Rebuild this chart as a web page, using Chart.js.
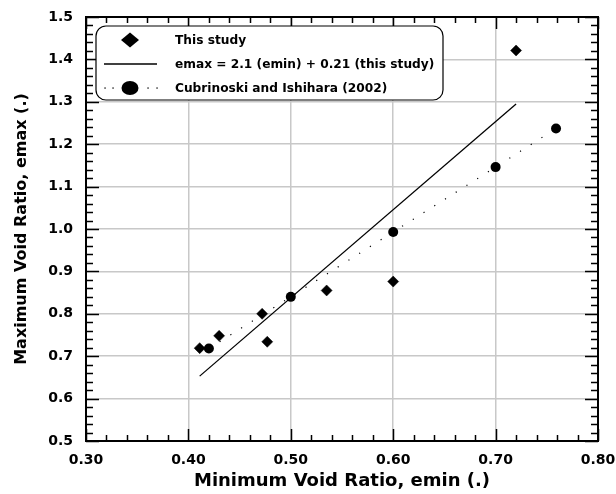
<!DOCTYPE html>
<html>
<head>
<meta charset="utf-8">
<script src="https://cdn.jsdelivr.net/npm/chart.js@4.4.1/dist/chart.umd.min.js"></script>
<style>
  html, body { margin: 0; padding: 0; background: #fff; }
  canvas { display: block; }
</style>
</head>
<body>
<canvas id="c" width="616" height="494"></canvas>
<script>
// ---- Data ----
const studyX = [0.411, 0.430, 0.472, 0.477, 0.535, 0.600, 0.720];
const studyY = [0.719, 0.748, 0.800, 0.734, 0.855, 0.876, 1.421];

const fitX = [0.411, 0.720];
const fitY = [0.653, 1.295];

const cubX = [0.420, 0.500, 0.600, 0.700, 0.759];
const cubY = [0.718, 0.840, 0.993, 1.146, 1.237];

const xTicks = ['0.30', '0.40', '0.50', '0.60', '0.70', '0.80'];
const yTicks = ['0.5', '0.6', '0.7', '0.8', '0.9', '1.0', '1.1', '1.2', '1.3', '1.4', '1.5'];

const legendLabels = [
  'This study',
  'emax = 2.1 (emin) + 0.21 (this study)',
  'Cubrinoski and Ishihara (2002)'
];
const xTitle = 'Minimum Void Ratio, emin (.)';
const yTitle = 'Maximum Void Ratio, emax (.)';

const FONT = 'DejaVu Sans';
const toPts = (xs, ys) => xs.map((x, i) => ({ x: x, y: ys[i] }));

// inward minor/major ticks on all four sides + full frame
const frameTicks = {
  id: 'frameTicks',
  afterDraw(chart) {
    const { ctx, chartArea: a, scales } = chart;
    const xs = scales.x, ys = scales.y;
    ctx.save();
    ctx.strokeStyle = '#000';
    ctx.lineWidth = 1.5;
    ctx.beginPath();
    for (let i = 0; i <= 25; i++) {
      const v = 0.3 + i * 0.02;
      const px = Math.round(xs.getPixelForValue(v)) + 0.5;
      const len = (i % 5 === 0) ? 12 : 6;
      ctx.moveTo(px, a.bottom); ctx.lineTo(px, a.bottom - len);
      ctx.moveTo(px, a.top); ctx.lineTo(px, a.top + len);
    }
    for (let i = 0; i <= 50; i++) {
      const v = 0.5 + i * 0.02;
      const py = Math.round(ys.getPixelForValue(v)) + 0.5;
      const len = (i % 5 === 0) ? 13 : 7;
      ctx.moveTo(a.left, py); ctx.lineTo(a.left + len, py);
      ctx.moveTo(a.right, py); ctx.lineTo(a.right - len, py);
    }
    ctx.stroke();
    ctx.lineWidth = 2;
    ctx.strokeRect(a.left, a.top, a.right - a.left, a.bottom - a.top);
    ctx.restore();
  }
};

// boxed legend inside the plot
const boxLegend = {
  id: 'boxLegend',
  afterDraw(chart) {
    const { ctx } = chart;
    const bx = 96, by = 26, bw = 347, bh = 74, r = 10;
    ctx.save();
    ctx.beginPath();
    ctx.moveTo(bx + r, by);
    ctx.arcTo(bx + bw, by, bx + bw, by + bh, r);
    ctx.arcTo(bx + bw, by + bh, bx, by + bh, r);
    ctx.arcTo(bx, by + bh, bx, by, r);
    ctx.arcTo(bx, by, bx + bw, by, r);
    ctx.closePath();
    ctx.fillStyle = '#fff';
    ctx.fill();
    ctx.strokeStyle = '#000';
    ctx.lineWidth = 1.2;
    ctx.stroke();

    const sx = 130, rows = [40, 64, 88];
    ctx.fillStyle = '#000';
    ctx.beginPath();
    ctx.moveTo(sx - 9, rows[0]); ctx.lineTo(sx, rows[0] - 7.5);
    ctx.lineTo(sx + 9, rows[0]); ctx.lineTo(sx, rows[0] + 7.5);
    ctx.closePath(); ctx.fill();
    ctx.lineWidth = 1.3;
    ctx.beginPath(); ctx.moveTo(104, rows[1]); ctx.lineTo(157, rows[1]); ctx.stroke();
    [105, 113, 148, 157].forEach(d => { ctx.fillRect(d - 0.6, rows[2] - 0.6, 1.3, 1.3); });
    ctx.beginPath(); ctx.ellipse(sx, rows[2], 8.5, 7, 0, 0, Math.PI * 2); ctx.fill();

    ctx.font = 'bold 12.2px "' + FONT + '"';
    ctx.textBaseline = 'middle';
    ctx.textAlign = 'left';
    legendLabels.forEach((t, i) => ctx.fillText(t, 175, rows[i] + 1));
    ctx.restore();
  }
};

const gridColor = (ctx) => {
  const v = ctx.tick ? ctx.tick.value : null;
  if (v === null) return 'rgba(0,0,0,0)';
  const s = ctx.scale;
  if (Math.abs(v - s.min) < 1e-9 || Math.abs(v - s.max) < 1e-9) return 'rgba(0,0,0,0)';
  return '#c8c8c8';
};

new Chart(document.getElementById('c'), {
  type: 'scatter',
  data: {
    datasets: [
      {
        label: legendLabels[1],
        data: toPts(fitX, fitY),
        showLine: true,
        borderColor: '#000',
        borderWidth: 1.3,
        pointRadius: 0,
        order: 3
      },
      {
        label: legendLabels[2],
        data: toPts(cubX, cubY),
        showLine: true,
        borderColor: '#000',
        borderWidth: 1.2,
        borderDash: [1.2, 11.5],
        pointStyle: 'circle',
        pointRadius: 5,
        pointBorderWidth: 0,
        pointBackgroundColor: '#000',
        order: 1
      },
      {
        label: legendLabels[0],
        data: toPts(studyX, studyY),
        showLine: false,
        pointStyle: 'rectRot',
        pointRadius: 5.5,
        pointBorderWidth: 0.5,
        pointBorderColor: '#000',
        pointBackgroundColor: '#000',
        order: 2
      }
    ]
  },
  options: {
    responsive: false,
    animation: false,
    devicePixelRatio: 1,
    layout: { padding: { top: 17, right: 18, left: 0, bottom: 0 } },
    plugins: { legend: { display: false }, tooltip: { enabled: false } },
    scales: {
      x: {
        type: 'linear',
        min: 0.3, max: 0.8,
        afterFit: (s) => { s.height = 53; s.paddingLeft = 0; s.paddingRight = 0; },
        afterBuildTicks: (s) => { s.ticks = xTicks.map(t => ({ value: parseFloat(t) })); },
        ticks: {
          callback: (v) => xTicks.find(t => Math.abs(parseFloat(t) - v) < 1e-9) || '',
          color: '#000',
          font: { family: FONT, weight: 'bold', size: 14 },
          padding: 11,
          maxRotation: 0
        },
        grid: { color: gridColor, lineWidth: 1.5, drawTicks: false },
        border: { display: false },
        title: {
          display: true, text: xTitle, color: '#000',
          font: { family: FONT, weight: 'bold', size: 18 },
          padding: { top: 0, bottom: 2 }
        }
      },
      y: {
        type: 'linear',
        min: 0.5, max: 1.5,
        afterFit: (s) => { s.width = 86; s.paddingTop = 0; s.paddingBottom = 0; },
        afterBuildTicks: (s) => { s.ticks = yTicks.map(t => ({ value: parseFloat(t) })); },
        ticks: {
          callback: (v) => yTicks.find(t => Math.abs(parseFloat(t) - v) < 1e-9) || '',
          color: '#000',
          font: { family: FONT, weight: 'bold', size: 14 },
          padding: 13
        },
        grid: { color: gridColor, lineWidth: 1.5, drawTicks: false },
        border: { display: false },
        title: {
          display: true, text: yTitle, color: '#000',
          font: { family: FONT, weight: 'bold', size: 16 },
          padding: { top: 12, bottom: 0 }
        }
      }
    }
  },
  plugins: [frameTicks, boxLegend]
});
</script>
</body>
</html>
